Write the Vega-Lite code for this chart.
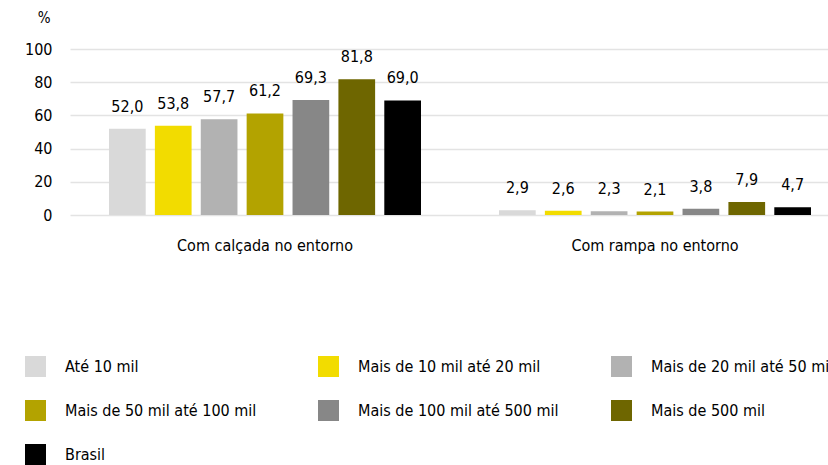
{
  "$schema": "https://vega.github.io/schema/vega-lite/v6.json",
  "autosize": {"type": "none"},
  "padding": {"left": 70, "top": 49, "right": 0, "bottom": 250},
  "width": 780,
  "height": 166,
  "config": {
    "locale": {"number": {"decimal": ",", "thousands": ".", "grouping": [3], "currency": ["R$", ""]}},
    "font": "DejaVu Sans Condensed",
    "view": {"stroke": null},
    "background": "white"
  },
  "data": {
    "values": [
      {"grupo": "Com calçada no entorno", "classe": "Até 10 mil", "ordem": 1, "valor": 52.0},
      {"grupo": "Com calçada no entorno", "classe": "Mais de 10 mil até 20 mil", "ordem": 2, "valor": 53.8},
      {"grupo": "Com calçada no entorno", "classe": "Mais de 20 mil até 50 mil", "ordem": 3, "valor": 57.7},
      {"grupo": "Com calçada no entorno", "classe": "Mais de 50 mil até 100 mil", "ordem": 4, "valor": 61.2},
      {"grupo": "Com calçada no entorno", "classe": "Mais de 100 mil até 500 mil", "ordem": 5, "valor": 69.3},
      {"grupo": "Com calçada no entorno", "classe": "Mais de 500 mil", "ordem": 6, "valor": 81.8},
      {"grupo": "Com calçada no entorno", "classe": "Brasil", "ordem": 7, "valor": 69.0},
      {"grupo": "Com rampa no entorno", "classe": "Até 10 mil", "ordem": 1, "valor": 2.9},
      {"grupo": "Com rampa no entorno", "classe": "Mais de 10 mil até 20 mil", "ordem": 2, "valor": 2.6},
      {"grupo": "Com rampa no entorno", "classe": "Mais de 20 mil até 50 mil", "ordem": 3, "valor": 2.3},
      {"grupo": "Com rampa no entorno", "classe": "Mais de 50 mil até 100 mil", "ordem": 4, "valor": 2.1},
      {"grupo": "Com rampa no entorno", "classe": "Mais de 100 mil até 500 mil", "ordem": 5, "valor": 3.8},
      {"grupo": "Com rampa no entorno", "classe": "Mais de 500 mil", "ordem": 6, "valor": 7.9},
      {"grupo": "Com rampa no entorno", "classe": "Brasil", "ordem": 7, "valor": 4.7}
    ]
  },
  "encoding": {
    "x": {
      "field": "grupo", "type": "nominal",
      "scale": {"paddingInner": 0.2, "paddingOuter": 0.1},
      "axis": {"title": null, "labelAngle": 0, "labelFontSize": 16, "labelColor": "#000", "labelPadding": 22, "domain": false, "ticks": false, "labelFont": "DejaVu Sans Condensed"}
    },
    "xOffset": {
      "field": "classe", "type": "nominal",
      "sort": ["Até 10 mil", "Mais de 10 mil até 20 mil", "Mais de 20 mil até 50 mil", "Mais de 50 mil até 100 mil", "Mais de 100 mil até 500 mil", "Mais de 500 mil", "Brasil"],
      "scale": {"paddingInner": 0.2, "paddingOuter": 0}
    },
    "y": {
      "field": "valor", "type": "quantitative",
      "scale": {"domain": [0, 100], "nice": false},
      "axis": {"values": [0, 20, 40, 60, 80, 100], "title": "%", "titleAngle": 0, "titleFontWeight": "normal", "titleFontSize": 15, "titleColor": "#000", "titleX": -20, "titleY": -32, "titleAlign": "right", "titleBaseline": "middle", "titleFont": "DejaVu Sans Condensed", "labelFontSize": 16, "labelColor": "#000", "labelPadding": 18, "domain": false, "ticks": false, "gridColor": "#e3e3e3", "gridWidth": 1.5, "labelFont": "DejaVu Sans Condensed"}
    }
  },
  "layer": [
    {
      "mark": {"type": "bar"},
      "encoding": {
        "color": {
          "field": "classe", "type": "nominal",
          "sort": ["Até 10 mil", "Mais de 10 mil até 20 mil", "Mais de 20 mil até 50 mil", "Mais de 50 mil até 100 mil", "Mais de 100 mil até 500 mil", "Mais de 500 mil", "Brasil"],
          "scale": {
            "domain": ["Até 10 mil", "Mais de 10 mil até 20 mil", "Mais de 20 mil até 50 mil", "Mais de 50 mil até 100 mil", "Mais de 100 mil até 500 mil", "Mais de 500 mil", "Brasil"],
            "range": ["#d9d9d9", "#f2dc00", "#b2b2b2", "#b3a300", "#878787", "#6e6600", "#000000"]
          },
          "legend": {
            "title": null, "orient": "none", "legendX": -45, "legendY": 307, "direction": "horizontal", "columns": 3, "gridAlign": "all",
            "symbolType": "square", "symbolSize": 441, "symbolStrokeWidth": 0, "symbolOpacity": 1,
            "labelFontSize": 16, "labelColor": "#000", "labelOffset": 19, "labelLimit": 400, "labelFont": "DejaVu Sans Condensed",
            "rowPadding": 23, "columnPadding": 52
          }
        }
      }
    },
    {
      "mark": {"type": "text", "baseline": "bottom", "dy": -14, "fontSize": 16, "color": "#000", "font": "DejaVu Sans Condensed"},
      "encoding": {
        "text": {"field": "valor", "type": "quantitative", "format": ".1f"}
      }
    }
  ]
}
